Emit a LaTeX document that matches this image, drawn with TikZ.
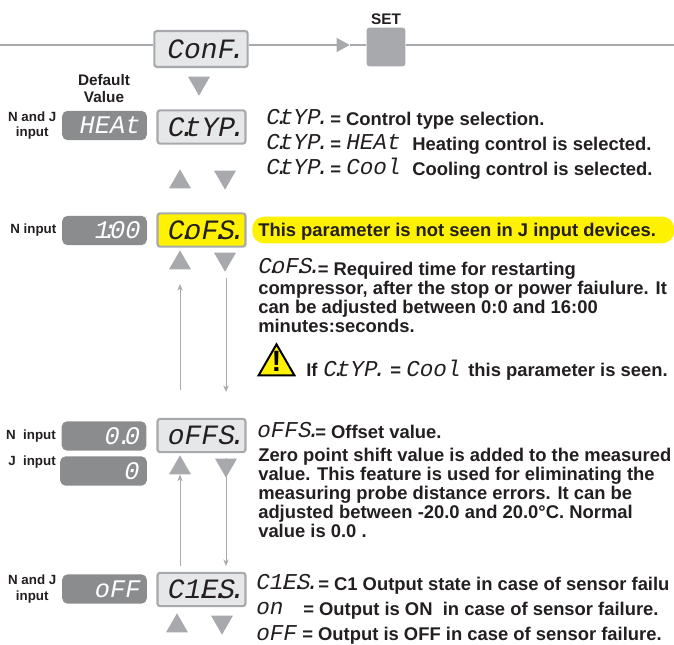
\documentclass[tikz,border=0pt]{standalone}
\usepackage{fontspec}
\setmainfont{Liberation Sans}
\newfontfamily\segfont{Liberation Mono}
\usetikzlibrary{arrows.meta,positioning,calc,shapes.geometric}
\definecolor{KeyGray}{HTML}{A7A9AC}
\definecolor{DarkPanel}{HTML}{8A8C8E}
\definecolor{LightPanel}{HTML}{E6E7E8}
\definecolor{InkBlack}{HTML}{231F20}
\definecolor{NoteYellow}{HTML}{FFF200}
\newcommand{\dt}{\kern-.2em.\kern-.4em}
\newcommand{\seg}[1]{{\mdseries\segfont\itshape\fontsize{17}{17}\selectfont #1}}
\begin{document}
\begin{tikzpicture}[
  x=0.75pt,y=-0.75pt,
  display/.style={rounded corners=2pt,draw=KeyGray,line width=1.6pt,fill=LightPanel,
                  minimum width=66pt,minimum height=25pt,inner sep=0pt,text=InkBlack,
                  font=\segfont\itshape\fontsize{21}{21}\selectfont},
  hilite/.style={display,fill=NoteYellow},
  value/.style={rounded corners=4pt,fill=DarkPanel,minimum width=63.5pt,minimum height=22pt,
                inner sep=0pt,text=white,align=right,text width=54pt,
                font=\segfont\itshape\fontsize{19}{19}\selectfont},
  keyup/.style={regular polygon,regular polygon sides=3,fill=KeyGray,inner sep=0pt,minimum size=19pt},
  keydown/.style={keyup,shape border rotate=180},
  tag/.style={font=\bfseries\fontsize{10}{11.5}\selectfont,align=center,text=InkBlack,inner sep=0pt},
  head/.style={tag,font=\bfseries\fontsize{11.5}{12.5}\selectfont},
  txt/.style={font=\bfseries\fontsize{13.8}{14.25}\selectfont,align=left,text=InkBlack,inner sep=0pt},
  flow/.style={line width=2.2pt,draw=KeyGray},
  arr/.style={-{Stealth[length=5pt,width=4pt]},line width=.7pt,draw=KeyGray}
]
\useasboundingbox (0,0) rectangle (674,645);
% top line
\coordinate (start) at (0,45);
\coordinate (end) at (674,45);
\coordinate (tip) at (350,45);
\node[display,minimum width=70pt,minimum height=27pt] (conf) at (201,49) {ConF\dt};
\node[rounded corners=2pt,fill=KeyGray,minimum size=29pt,inner sep=0pt] (set) at (386,47) {};
\node[head,above=1.5pt of set] (setlabel) {SET};
\draw[flow] (start) -- (start -| conf.west);
\draw[flow,-{Triangle[length=10pt,width=10pt]}] (start -| conf.east) -- (tip);
\draw[flow] (tip) -- (tip -| set.west);
\draw[flow] (end -| set.east) -- (end);
\node[keydown] (confdown) at (199,83) {};
% control type
\node[head] (default) at (104,88.5) {Default\\Value};
\node[value] (heat) at (104.5,125.5) {HEAt};
\node[display] (ctyp) at (201.5,127) {C\dt tYP\dt};
\node[tag,left=4pt of heat] (heatlabel) {N and J\\input};
\node[keyup] (ctypup) at (180,182) {};
\node[keydown] (ctypdown) at (225,177) {};
\node[txt,anchor=base west] (ctyptxt) at (266,125) {\seg{C\dt tYP\dt}};
\node[txt,anchor=base west] at (330,126) {= Control type selection.};
\node[txt,anchor=base west] at (266,150) {\seg{C\dt tYP\dt}};
\node[txt,anchor=base west] at (330,151) {=};
\node[txt,anchor=base west] at (346,150) {\seg{HEAt}};
\node[txt,anchor=base west] at (412,151) {Heating control is selected.};
\node[txt,anchor=base west] at (266,175) {\seg{C\dt tYP\dt}};
\node[txt,anchor=base west] at (330,176) {=};
\node[txt,anchor=base west] at (346,175) {\seg{Cool}};
\node[txt,anchor=base west] at (412,176) {Cooling control is selected.};
% compressor time
\node[value] (tout) at (104.5,230.5) {1\kern-.3em:\kern-.3em00};
\node[hilite] (cofs) at (201.5,230) {C\dt oF\dt S\dt};
\node[tag,left=4pt of tout] (toutlabel) {N input};
\node[keyup] (cofsup) at (180,263) {};
\node[keydown] (cofsdown) at (225,259) {};
\coordinate (cofsupa) at (180,390);
\coordinate (cofsupb) at (180,284);
\coordinate (cofsdowna) at (226,278);
\coordinate (cofsdownb) at (226,392);
\draw[arr] (cofsupa) -- (cofsupb);
\draw[arr] (cofsdowna) -- (cofsdownb);
\node[rounded corners=9pt,fill=NoteYellow,minimum width=316.5pt,minimum height=20pt,anchor=west] (note) at (252,230) {};
\node[txt,anchor=base west] (notetxt) at (258,237) {This parameter is not seen in J input devices.};
\node[txt,anchor=base west] at (258,273) {\seg{C\dt oF\dt S\dt}};
\node[txt,anchor=north west] (cofstxt) at (258,260) {\phantom{\seg{C\dt oF\dt S\dt}}\ = Required time for restarting\\
compressor, after the stop or power faiulure. It\\
can be adjusted between 0:0 and 16:00\\
minutes:seconds.};
\node[regular polygon,regular polygon sides=3,draw=black,line width=1.5pt,fill=NoteYellow,
  minimum size=31pt,inner sep=0pt] (warn) at (276.5,365) {};
\node[font=\bfseries\fontsize{22}{22}\selectfont,inner sep=0pt] (warnmark) at (276.5,361) {!};
\node[txt,anchor=base west] at (306,376) {If};
\node[txt,anchor=base west] at (323,376) {\seg{C\dt tYP\dt}};
\node[txt,anchor=base west] at (390,376) {=};
\node[txt,anchor=base west] at (406,376) {\seg{Cool}};
\node[txt,anchor=base west] at (468,376) {this parameter is seen.};
% offset
\node[value] (ninp) at (104,436) {0\kern-.1em.\kern-.3em0};
\node[value,minimum width=65pt] (jinp) at (103.5,471) {0};
\node[display] (offs) at (201.5,435.5) {oFFS\dt};
\node[tag,left=4pt of ninp] (ninplabel) {N\ \ input};
\node[tag] (jinplabel) at (32,462) {J\ \ input};
\node[keyup] (offsup) at (180,468) {};
\node[keydown] (offsdown) at (226,465) {};
\coordinate (offsupa) at (180,566);
\coordinate (offsdownb) at (226,566);
\draw[arr] (offsupa) -- (offsup.south);
\draw[arr] (offsdown.north) -- (offsdownb);
\node[txt,anchor=base west] at (257,437) {\seg{oFFS\dt}};
\node[txt,anchor=base west] at (315,438) {= Offset value.};
\node[txt,anchor=north west] (offstxt) at (258,448) {Zero point shift value is added to the measured\\
value. This feature is used for eliminating the\\
measuring probe distance errors. It can be\\
adjusted between -20.0 and 20.0°C. Normal\\
value is 0.0 .};
% sensor failure
\node[value] (fail) at (104.5,589) {oFF};
\node[display] (cies) at (201.5,589.5) {C1\dt E\dt S\dt};
\node[tag,left=4pt of fail] (faillabel) {N and J\\input};
\node[keyup] (ciesup) at (177,626) {};
\node[keydown] (ciesdown) at (222,622) {};
\node[txt,anchor=base west] at (256,589) {\seg{C1\dt E\dt S\dt}};
\node[txt,anchor=base west] at (318,590) {= C1 Output state in case of sensor failu};
\node[txt,anchor=base west] at (256,614) {\seg{on}};
\node[txt,anchor=base west] at (303,615) {= Output is ON\ \ in case of sensor failure.};
\node[txt,anchor=base west] at (256,640) {\seg{oFF}};
\node[txt,anchor=base west] at (302,640) {= Output is OFF in case of sensor failure.};
\end{tikzpicture}
\end{document}
